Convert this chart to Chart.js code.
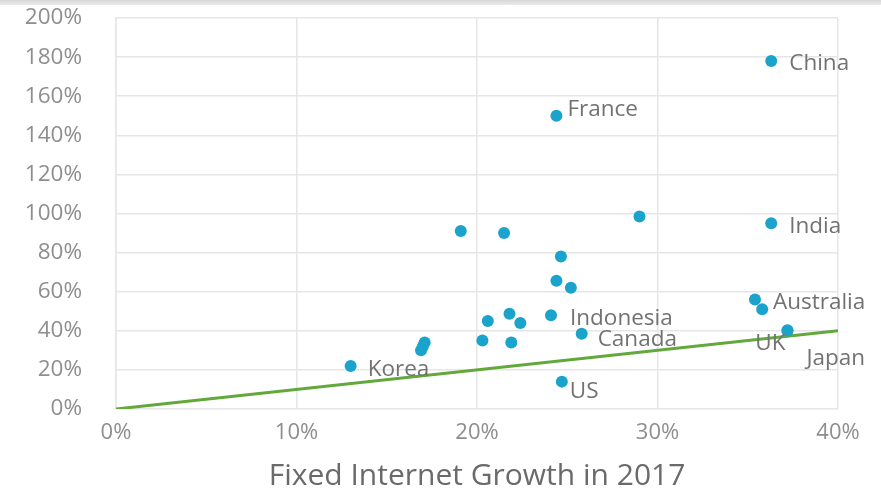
<!DOCTYPE html>
<html>
<head>
<meta charset="utf-8">
<script src="https://cdn.jsdelivr.net/npm/chart.js@4"></script>
<style>
  html, body { margin: 0; padding: 0; background: #fff; }
  #wrap { position: relative; width: 881px; height: 491px; }
  #band { position: absolute; left: 0; top: 0; width: 881px; height: 5px; background: linear-gradient(#d6d6d6, #ececec); }
</style>
</head>
<body>
<div id="wrap">
  <canvas id="chart" width="881" height="491"></canvas>
  <div id="band"></div>
</div>
<script>
// fixed internet growth (x) vs mobile growth (y), percent
const fixedGrowth  = [36.3, 24.4, 36.3, 29.0, 19.1, 21.5, 24.65, 24.4, 25.2, 24.1, 21.8, 22.4, 20.6, 20.3, 21.9, 25.8, 24.7, 13.0, 17.1, 17.0, 16.9, 35.4, 35.8, 37.2, 37.2];
const mobileGrowth = [178, 150, 95, 98.5, 91, 90, 78, 65.6, 62, 48, 48.7, 44, 45, 35, 34, 38.5, 14, 22, 34, 32, 30, 56, 51, 40, 40.3];
const countries    = ['China', 'France', 'India', '', '', '', '', '', '', 'Indonesia', '', '', '', '', '', 'Canada', 'US', 'Korea', '', '', '', 'Australia', '', 'UK', 'Japan'];

// parity line
const lineX = [0, 40];
const lineY = [0, 40];

const xTicks = [0, 10, 20, 30, 40];
const yMax = 200;

const fontFamily = '"Open Sans", "Liberation Sans", sans-serif';

// label placement relative to the point (pixels)
const labelOffset = {
  France: [11, -6, 'left'],
  Indonesia: [19, 3, 'left'],
  Canada: [16, 6, 'left'],
  US: [8, 10, 'left'],
  Korea: [17, 4, 'left'],
  UK: [-2, 13, 'right'],
  Japan: [19, 28, 'left']
};

const pointLabels = {
  id: 'pointLabels',
  afterDatasetsDraw(chart) {
    const ctx = chart.ctx;
    const xs = chart.scales.x, ys = chart.scales.y;
    ctx.save();
    ctx.font = '22.5px ' + fontFamily;
    ctx.fillStyle = '#727272';
    ctx.textBaseline = 'middle';
    countries.forEach((name, i) => {
      if (!name) return;
      const px = xs.getPixelForValue(fixedGrowth[i]);
      const py = ys.getPixelForValue(mobileGrowth[i]);
      const o = labelOffset[name] || [18, 3, 'left'];
      ctx.textAlign = o[2];
      ctx.fillText(name, px + o[0], py + o[1]);
    });
    ctx.restore();
  }
};

let c = document.getElementById('chart');
new Chart(c, {
  data: {
    datasets: [
      {
        type: 'scatter',
        order: 0,
        data: fixedGrowth.map((v, i) => ({x: v, y: mobileGrowth[i]})),
        backgroundColor: '#1aa3cb',
        borderWidth: 0,
        pointRadius: 6
      },
      {
        type: 'line',
        order: 1,
        data: lineX.map((v, i) => ({x: v, y: lineY[i]})),
        borderColor: '#62a83a',
        borderWidth: 3,
        pointRadius: 0,
        fill: false
      }
    ]
  },
  options: {
    responsive: false,
    animation: false,
    layout: {padding: {left: 0, right: 43, top: 18, bottom: 0}},
    plugins: {legend: {display: false}, tooltip: {enabled: false}},
    scales: {
      x: {
        type: 'linear',
        min: 0,
        max: 40,
        afterBuildTicks: (s) => { s.ticks = xTicks.map(v => ({value: v})); },
        afterFit: (s) => { s.height = 82; s.paddingLeft = 0; s.paddingRight = 0; },
        grid: {color: '#e6e6e6', lineWidth: 1.5, drawTicks: false},
        border: {display: false},
        ticks: {color: '#8e8e8e', font: {family: fontFamily, size: 22}, padding: 11, callback: (v) => v + '%'},
        title: {display: true, text: 'Fixed Internet Growth in 2017', color: '#6a6a6a', font: {family: fontFamily, size: 30}, padding: {top: 0, bottom: -3}}
      },
      y: {
        type: 'linear',
        min: 0,
        max: yMax,
        afterFit: (s) => { s.width = 116; s.paddingTop = 0; s.paddingBottom = 0; },
        grid: {color: '#e6e6e6', lineWidth: 1.5, drawTicks: false},
        border: {display: true, color: '#e6e6e6', width: 1.5},
        ticks: {stepSize: 20, color: '#8e8e8e', font: {family: fontFamily, size: 22.5}, padding: 34, callback: (v) => v + '%'}
      }
    }
  },
  plugins: [pointLabels]
});
</script>
</body>
</html>
